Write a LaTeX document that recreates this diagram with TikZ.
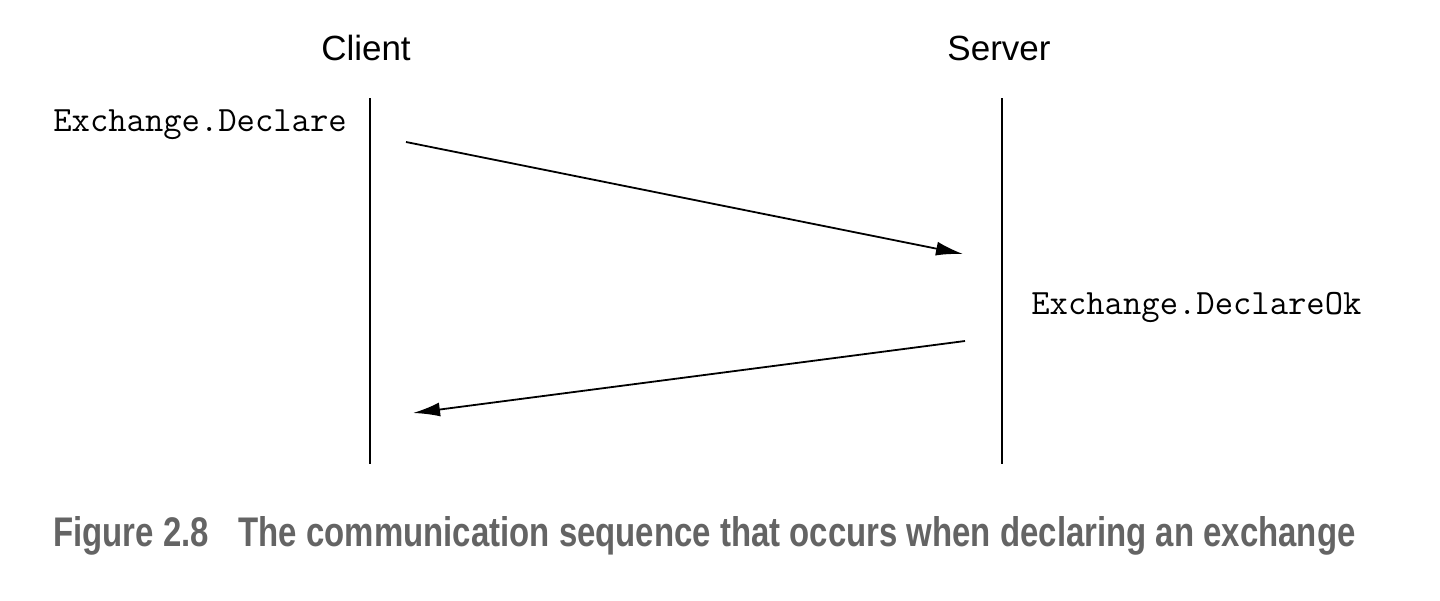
\documentclass[tikz,border=0pt]{standalone}
\usepackage{fontspec}
\setmainfont{Liberation Sans}
\usepackage{tikz}
\usetikzlibrary{arrows.meta,positioning}
\definecolor{capgray}{HTML}{646464}
\tikzset{
  seq/party/.style={font=\fontsize{17.5}{20}\selectfont, inner sep=0pt},
  seq/msg/.style={font=\ttfamily\fontsize{17.8}{20}\selectfont, inner sep=0pt, anchor=west},
  seq/life/.style={line width=1pt},
  seq/arr/.style={line width=0.9pt, -{Latex[length=13.5pt,width=7pt]}},
  seq/caption/.style={font=\bfseries, text=capgray, inner sep=0pt, anchor=west}
}
\begin{document}
\begin{tikzpicture}[x=0.5pt,y=-0.5pt]
\useasboundingbox (0,0) rectangle (1440,600);
% parties and lifelines
\node[seq/party] (client) at (366,48) {Client};
\node[seq/party] (server) at (999,48) {Server};
\coordinate (ctop) at (370,98);
\coordinate (cbot) at (370,464);
\coordinate (stop) at (1002,98);
\coordinate (sbot) at (1002,464);
\draw[seq/life] (ctop) -- (cbot);
\draw[seq/life] (stop) -- (sbot);
% messages
\node[seq/msg] (declare) at (53,125) {Exchange.Declare};
\node[seq/msg] (declareok) at (1031,307) {Exchange.DeclareOk};
\coordinate (a1s) at (406,142);
\coordinate (a1e) at (963,254);
\coordinate (a2s) at (965,341);
\coordinate (a2e) at (413,413);
\draw[seq/arr] (a1s) -- (a1e);
\draw[seq/arr] (a2s) -- (a2e);
% caption
\node[seq/caption] (caption) at (53,536) {\resizebox{651pt}{15pt}{Figure 2.8\hspace{0.9em}The communication sequence that occurs when declaring an exchange}};
\end{tikzpicture}
\end{document}
